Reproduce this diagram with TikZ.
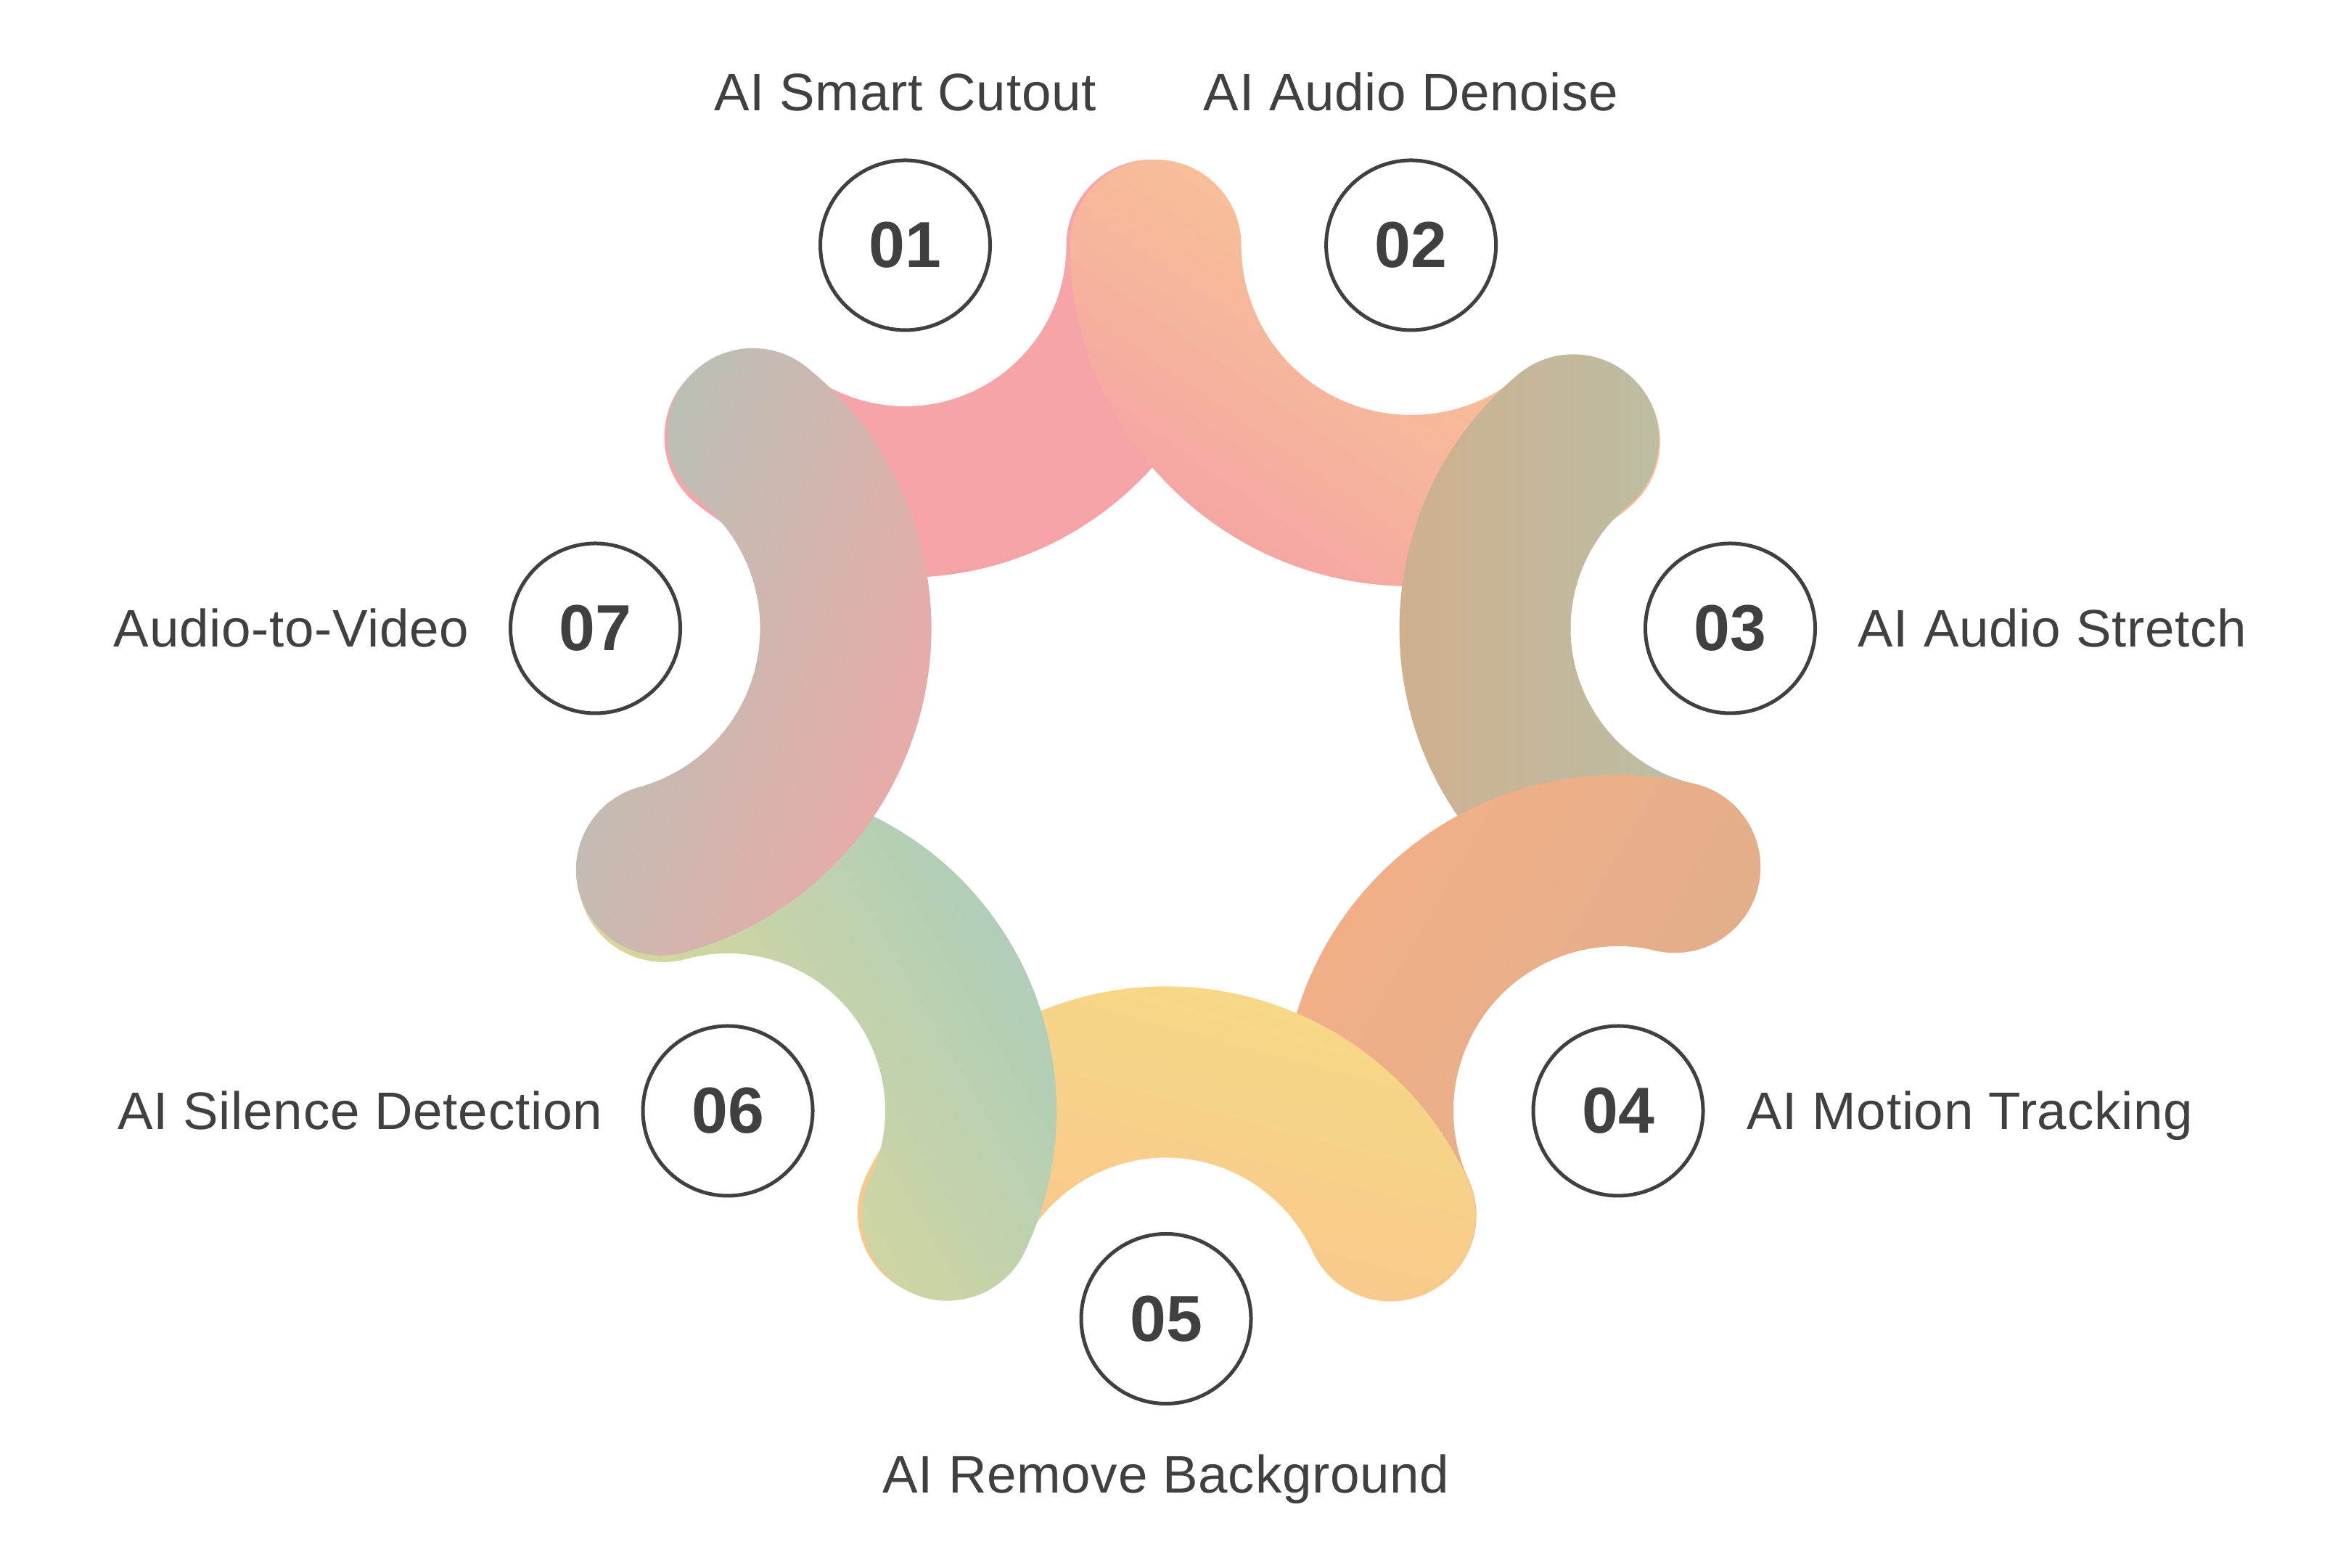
\documentclass[tikz,border=0pt]{standalone}
\usepackage{fontspec}
\setmainfont{Liberation Sans}
\newfontfamily\lblfont[LetterSpace=1]{Liberation Sans}
\usetikzlibrary{calc}
\definecolor{txt}{HTML}{404040}
\definecolor{p1a}{HTML}{F7A5A9}\definecolor{p1b}{HTML}{F6A3A7}
\definecolor{p2a}{HTML}{FACE90}\definecolor{p2b}{HTML}{F4A4A4}
\definecolor{p3a}{HTML}{B4C3AB}\definecolor{p3b}{HTML}{D2AE8C}
\definecolor{p4a}{HTML}{F4AF87}\definecolor{p4b}{HTML}{DDAE8B}
\definecolor{p5a}{HTML}{F6DC86}\definecolor{p5b}{HTML}{F9C48D}
\definecolor{p6a}{HTML}{A8CCBE}\definecolor{p6b}{HTML}{E4DA92}
\definecolor{p7a}{HTML}{B3C3B6}\definecolor{p7b}{HTML}{F0A7A7}
\tikzset{
  numcirc/.style={circle, draw=txt, line width=0.05cm, fill=white, minimum size=2.34cm, inner sep=0pt, text=txt, font=\fontsize{25.5}{26}\selectfont\bfseries},
  lbl/.style={text=txt, font=\lblfont\fontsize{20.7}{24}\selectfont, inner sep=0pt},
}
% #1 centre, #2 start angle, #3 end angle, #4/#5 colours, #6 shading angle, #7 mid radius
\newcommand{\petal}[7]{\pgfmathsetmacro\pro{#7+1.18}\pgfmathsetmacro\pri{#7-1.18}%
  \shade[top color=#4,bottom color=#5,shading angle=#6]
  ($(#1)+(#2:\pro)$) arc[start angle=#2,end angle=#3,radius=\pro]
  arc[start angle=#3,end angle=#3+180,radius=1.18]
  arc[start angle=#3,end angle=#2,radius=\pri]
  arc[start angle=#2+180,end angle=#2+360,radius=1.18] -- cycle;}
\begin{document}
\begin{tikzpicture}
\useasboundingbox (0,0) rectangle (32.4,21.6);
\fill[white] (0,0) rectangle (32.4,21.6);
\coordinate (c1) at (12.475,18.22);
\coordinate (c2) at (19.446,18.22);
\coordinate (c3) at (23.845,12.94);
\coordinate (c4) at (22.30,6.29);
\coordinate (c5) at (16.07,3.425);
\coordinate (c6) at (10.03,6.29);
\coordinate (c7) at (8.205,12.94);
\petal{c1}{231.0}{360}{p1a}{p1b}{0}{3.40}
\petal{c2}{180}{309.8}{p2a}{p2b}{-35}{3.52}
\petal{c3}{129.8}{256.9}{p3a}{p3b}{-90}{3.38}
\petal{c4}{76.9}{204.7}{p4a}{p4b}{60}{3.45}
\petal{c5}{24.7}{154.6}{p5a}{p5b}{-15}{3.40}
\petal{c6}{-25.4}{105.3}{p6a}{p6b}{-60}{3.35}
\petal{c7}{-74.65}{51.0}{p7a}{p7b}{70}{3.45}
\node[numcirc] (n1) at (c1) {01};
\node[numcirc] (n2) at (c2) {02};
\node[numcirc] (n3) at (c3) {03};
\node[numcirc] (n4) at (c4) {04};
\node[numcirc] (n5) at (c5) {05};
\node[numcirc] (n6) at (c6) {06};
\node[numcirc] (n7) at (c7) {07};
\node[lbl, anchor=base] (l1) at ($(n1.north)+(0,0.655)$) {AI Smart Cutout};
\node[lbl, anchor=base] (l2) at ($(n2.north)+(0,0.655)$) {AI Audio Denoise};
\node[lbl, anchor=base west] (l3) at ($(n3.east)+(0.56,-0.26)$) {AI Audio Stretch};
\node[lbl, anchor=base west] (l4) at ($(n4.east)+(0.57,-0.26)$) {AI Motion Tracking};
\node[lbl, anchor=base] (l5) at ($(n5.south)+(0,-1.21)$) {AI Remove Background};
\node[lbl, anchor=base east] (l6) at ($(n6.west)+(-0.53,-0.26)$) {AI Silence Detection};
\node[lbl, anchor=base east] (l7) at ($(n7.west)+(-0.54,-0.26)$) {Audio-to-Video};
\end{tikzpicture}
\end{document}
